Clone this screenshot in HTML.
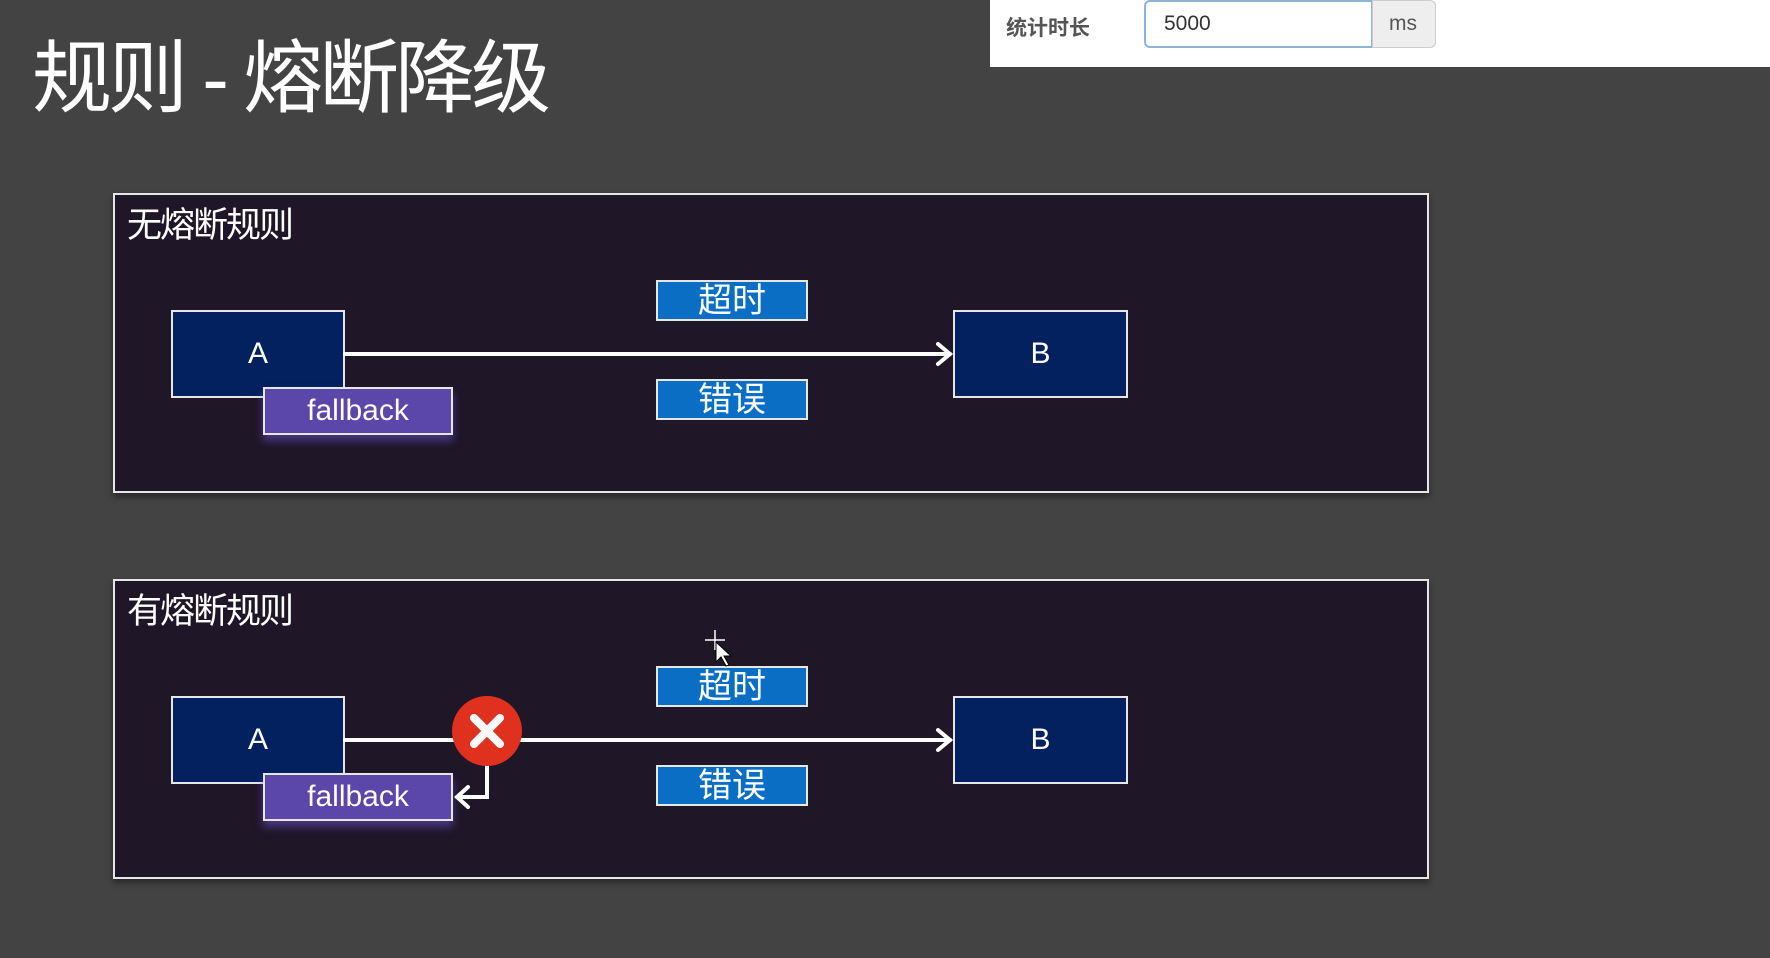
<!DOCTYPE html>
<html><head><meta charset="utf-8"><style>
body{margin:0;width:1770px;height:958px;background:#434343;position:relative;overflow:hidden;font-family:"Liberation Sans","Noto Sans CJK SC",sans-serif}
.a{position:absolute;box-sizing:border-box}
.panel{background:#1f1628;border:2px solid #e6e6e6;box-shadow:0 4px 6px rgba(0,0,0,.4)}
.box{background:#03215f;border:2px solid #e6e6e6;color:#fff;font-size:30px;display:flex;align-items:center;justify-content:center}
.fb{background:#5b46aa;border:2px solid #e6e6e6;color:#fff;font-size:30px;display:flex;align-items:center;justify-content:center;box-shadow:0 6px 8px rgba(110,90,220,.5)}
.lb{background:#0a6fc4;border:2px solid #e6e6e6;color:#fff;font-size:34px;display:flex;align-items:center;justify-content:center;line-height:1}
.pt{color:#fff;font-size:35px;letter-spacing:-2px}
</style></head><body>
<div class="a" style="left:990px;top:0;width:780px;height:67px;background:#fff"></div>
<div class="a" style="left:1006px;top:12px;font-size:21px;color:#555;font-weight:bold">统计时长</div>
<div class="a" style="left:1144px;top:0;width:229px;height:48px;border:2px solid #8fb3da;border-radius:6px 0 0 6px;background:#fff;font-size:21px;color:#333;padding:10px 18px">5000</div>
<div class="a" style="left:1372px;top:0;width:64px;height:48px;background:#eee;border:1px solid #ccc;border-radius:0 6px 6px 0;font-size:21px;color:#555;padding:11px 16px">ms</div>
<div class="a" style="left:32px;top:14px;color:#fff;font-size:80px;letter-spacing:-4px">规则 - 熔断降级</div>

<div class="a panel" style="left:113px;top:193px;width:1316px;height:300px"></div>
<div class="a pt" style="left:127px;top:197px">无熔断规则</div>
<div class="a lb" style="left:656px;top:280px;width:152px;height:41px">超时</div>
<div class="a lb" style="left:656px;top:379px;width:152px;height:41px">错误</div>
<div class="a box" style="left:171px;top:310px;width:174px;height:88px">A</div>
<div class="a box" style="left:953px;top:310px;width:175px;height:88px">B</div>
<div class="a fb" style="left:263px;top:387px;width:190px;height:48px">fallback</div>

<div class="a panel" style="left:113px;top:579px;width:1316px;height:300px"></div>
<div class="a pt" style="left:127px;top:583px">有熔断规则</div>
<div class="a lb" style="left:656px;top:666px;width:152px;height:41px">超时</div>
<div class="a lb" style="left:656px;top:765px;width:152px;height:41px">错误</div>
<div class="a box" style="left:171px;top:696px;width:174px;height:88px">A</div>
<div class="a box" style="left:953px;top:696px;width:175px;height:88px">B</div>
<div class="a fb" style="left:263px;top:773px;width:190px;height:48px">fallback</div>

<svg class="a" style="left:0;top:0" width="1770" height="958">
<g stroke="#fff" stroke-width="4" fill="none" stroke-linecap="round">
<line x1="345" y1="354" x2="950" y2="354"/>
<polyline points="938,344 950,354 938,364"/>
<line x1="345" y1="740" x2="950" y2="740"/>
<polyline points="938,730 950,740 938,750"/>
<polyline points="487,760 487,797 457,797"/>
<polyline points="468,787 457,797 468,807"/>
</g>
<circle cx="487" cy="731" r="35" fill="#e0301e"/>
<g stroke="#fff" stroke-width="8" stroke-linecap="round"><line x1="474" y1="718" x2="500" y2="744"/><line x1="500" y1="718" x2="474" y2="744"/></g>
<g stroke="#fff" stroke-width="1.5" fill="none"><path d="M715 630v20M705 640h20"/></g>
<path d="M716 642l0 20 5-5 5 9 3-1-5-9 7 0z" fill="#fff" stroke="#000" stroke-width="1"/>
</svg>
</body></html>
